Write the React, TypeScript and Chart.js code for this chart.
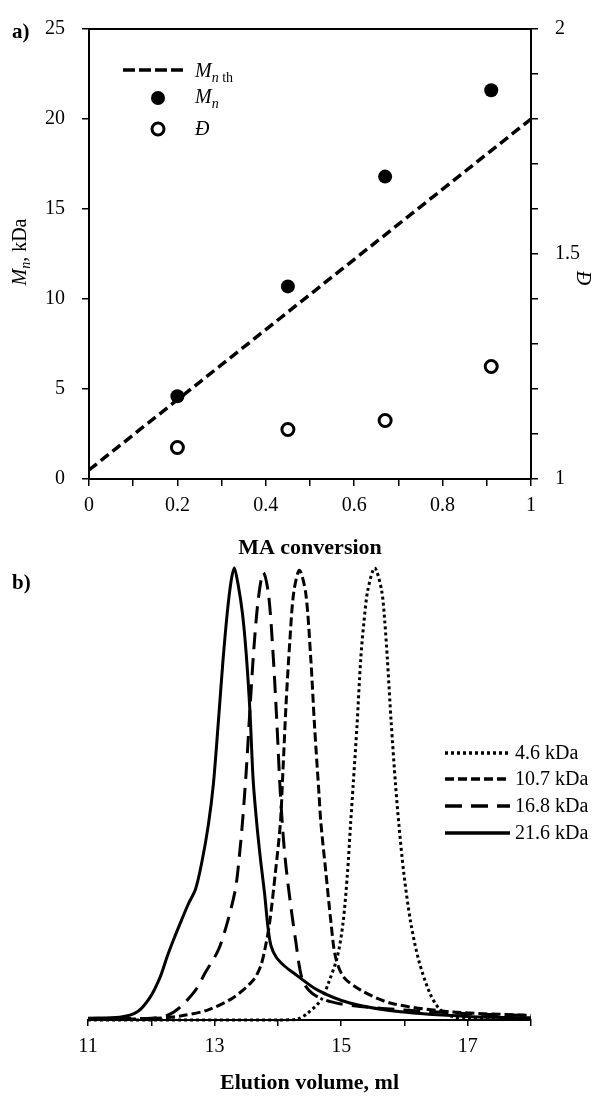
import React, { useEffect, useRef } from "react";
import { Chart, registerables } from "chart.js";

Chart.register(...registerables);

const SERIF = "'Liberation Serif', 'Times New Roman', serif";

// ---------- panel a data ----------
const conversion = [0.2, 0.45, 0.67, 0.91];
const mnValues = [4.6, 10.7, 16.8, 21.6];
const dispersityValues = [1.07, 1.11, 1.13, 1.25];
const mnThConversion = [0, 1];
const mnThValues = [0.5, 20];

// ---------- panel b data ----------
const vol46 = [11, 12, 13, 14, 14.31, 14.47, 14.68, 14.8, 14.94, 15.03, 15.1, 15.15, 15.19, 15.25, 15.31, 15.36, 15.42, 15.53, 15.64, 15.69, 15.73, 15.79, 15.86, 15.91, 15.99, 16.1, 16.23, 16.4, 16.55, 16.75, 17, 18];
const int46 = [0, 0, 0, 0, 0.002, 0.015, 0.044, 0.082, 0.14, 0.215, 0.325, 0.436, 0.52, 0.65, 0.8, 0.88, 0.95, 1.0, 0.95, 0.88, 0.8, 0.66, 0.52, 0.436, 0.325, 0.215, 0.13, 0.06, 0.025, 0.008, 0.003, 0.002];

const vol107 = [11, 12, 12.46, 12.89, 13.3, 13.61, 13.73, 13.8, 13.87, 13.96, 14.04, 14.08, 14.13, 14.19, 14.25, 14.34, 14.44, 14.52, 14.58, 14.65, 14.68, 14.76, 14.84, 14.91, 15.04, 15.31, 15.79, 16.74, 18];
const int107 = [0.002, 0.003, 0.009, 0.022, 0.05, 0.088, 0.12, 0.16, 0.215, 0.325, 0.436, 0.55, 0.7, 0.84, 0.945, 0.995, 0.945, 0.8, 0.65, 0.5, 0.436, 0.325, 0.215, 0.14, 0.095, 0.066, 0.037, 0.018, 0.01];

const vol168 = [11, 11.5, 12, 12.25, 12.46, 12.7, 12.85, 13.06, 13.2, 13.33, 13.39, 13.44, 13.5, 13.56, 13.62, 13.69, 13.77, 13.85, 13.92, 13.98, 14.04, 14.1, 14.17, 14.28, 14.39, 14.55, 14.85, 15.3, 16, 17, 18];
const int168 = [0.003, 0.004, 0.004, 0.01, 0.029, 0.066, 0.104, 0.155, 0.215, 0.29, 0.36, 0.436, 0.55, 0.69, 0.82, 0.93, 0.99, 0.945, 0.82, 0.67, 0.5, 0.38, 0.29, 0.177, 0.088, 0.058, 0.04, 0.03, 0.022, 0.014, 0.01];

const vol216 = [11, 11.5, 11.78, 11.98, 12.14, 12.25, 12.35, 12.46, 12.58, 12.7, 12.8, 12.9, 12.98, 13.06, 13.13, 13.2, 13.26, 13.31, 13.37, 13.44, 13.5, 13.56, 13.61, 13.67, 13.73, 13.79, 13.84, 13.89, 13.97, 14.1, 14.25, 14.63, 15.15, 15.94, 17, 18];
const int216 = [0.004, 0.006, 0.018, 0.05, 0.095, 0.14, 0.177, 0.215, 0.255, 0.29, 0.35, 0.43, 0.52, 0.66, 0.79, 0.9, 0.97, 1.0, 0.965, 0.9, 0.81, 0.68, 0.53, 0.43, 0.35, 0.28, 0.21, 0.165, 0.14, 0.12, 0.104, 0.066, 0.037, 0.018, 0.008, 0.005];

const traceLabels = ["4.6 kDa", "10.7 kDa", "16.8 kDa", "21.6 kDa"];
const traceDashes = [[3, 3], [9, 4], [17, 9], []];

const zip = (xs: number[], ys: number[]) => xs.map((x, i) => ({ x, y: ys[i] }));

type Part = { t: string; font: string; dy?: number };
function drawParts(ctx: CanvasRenderingContext2D, parts: Part[], x: number, y: number, center = false) {
  let w = 0;
  for (const p of parts) { ctx.font = p.font; w += ctx.measureText(p.t).width; }
  let cx = center ? x - w / 2 : x;
  ctx.textAlign = "left";
  ctx.textBaseline = "alphabetic";
  for (const p of parts) {
    ctx.font = p.font;
    ctx.fillText(p.t, cx, y + (p.dy || 0));
    cx += ctx.measureText(p.t).width;
  }
}

const decorA = {
  id: "decorA",
  afterDraw(chart: any) {
    const ctx: CanvasRenderingContext2D = chart.ctx;
    const a = chart.chartArea;
    ctx.save();
    ctx.fillStyle = "#000";
    ctx.strokeStyle = "#000";
    // top border
    ctx.lineWidth = 2;
    ctx.beginPath();
    ctx.moveTo(a.left, a.top);
    ctx.lineTo(a.right, a.top);
    ctx.stroke();
    // legend
    ctx.lineWidth = 3.5;
    ctx.setLineDash([12, 4]);
    ctx.beginPath();
    ctx.moveTo(123, 70);
    ctx.lineTo(183, 70);
    ctx.stroke();
    ctx.setLineDash([]);
    ctx.beginPath();
    ctx.arc(158, 98, 7, 0, Math.PI * 2);
    ctx.fill();
    ctx.lineWidth = 3;
    ctx.beginPath();
    ctx.arc(158, 129, 6, 0, Math.PI * 2);
    ctx.stroke();
    drawParts(ctx, [
      { t: "M", font: `italic 20px ${SERIF}` },
      { t: "n", font: `italic 14px ${SERIF}`, dy: 5 },
      { t: " th", font: `14px ${SERIF}`, dy: 5 },
    ], 195, 77);
    drawParts(ctx, [
      { t: "M", font: `italic 20px ${SERIF}` },
      { t: "n", font: `italic 14px ${SERIF}`, dy: 5 },
    ], 195, 103);
    drawParts(ctx, [{ t: "Đ", font: `italic 20px ${SERIF}` }], 195, 135);
    // left axis title
    ctx.save();
    ctx.translate(26, 252);
    ctx.rotate(-Math.PI / 2);
    drawParts(ctx, [
      { t: "M", font: `italic 20px ${SERIF}` },
      { t: "n", font: `italic 14px ${SERIF}`, dy: 4 },
      { t: ", kDa", font: `20px ${SERIF}` },
    ], 0, 0, true);
    ctx.restore();
    // right axis title
    ctx.save();
    ctx.translate(577, 278);
    ctx.rotate(Math.PI / 2);
    drawParts(ctx, [{ t: "Đ", font: `italic 20px ${SERIF}` }], 0, 0, true);
    ctx.restore();
    // panel label
    drawParts(ctx, [{ t: "a)", font: `bold 21px ${SERIF}` }], 12, 38);
    ctx.restore();
  },
};

const decorB = {
  id: "decorB",
  afterDraw(chart: any) {
    const ctx: CanvasRenderingContext2D = chart.ctx;
    ctx.save();
    ctx.fillStyle = "#000";
    ctx.strokeStyle = "#000";
    const rows = [193, 219, 246, 273];
    traceLabels.forEach((lab, i) => {
      ctx.lineWidth = 3.5;
      ctx.setLineDash(traceDashes[i]);
      ctx.beginPath();
      ctx.moveTo(445, rows[i]);
      ctx.lineTo(510, rows[i]);
      ctx.stroke();
      ctx.setLineDash([]);
      ctx.font = `20px ${SERIF}`;
      ctx.textAlign = "left";
      ctx.textBaseline = "middle";
      ctx.fillText(lab, 515, rows[i] + 1);
    });
    drawParts(ctx, [{ t: "b)", font: `bold 21px ${SERIF}` }], 12, 29);
    ctx.restore();
  },
};

const tickFont = { family: SERIF, size: 20 };

export default function App() {
  const refA = useRef<HTMLCanvasElement>(null);
  const refB = useRef<HTMLCanvasElement>(null);

  useEffect(() => {
    const chartA = new Chart(refA.current!, {
      type: "scatter",
      data: {
        datasets: [
          {
            label: "Mn th",
            data: zip(mnThConversion, mnThValues),
            showLine: true,
            borderColor: "#000",
            borderWidth: 3.5,
            borderDash: [10, 5],
            pointRadius: 0,
            yAxisID: "y",
            order: 3,
          },
          {
            label: "Mn",
            data: zip(conversion, mnValues),
            backgroundColor: "#000",
            borderColor: "#000",
            borderWidth: 0,
            pointRadius: 7,
            yAxisID: "y",
            order: 1,
          },
          {
            label: "Đ",
            data: zip(conversion, dispersityValues),
            backgroundColor: "#fff",
            borderColor: "#000",
            borderWidth: 3,
            pointRadius: 6,
            yAxisID: "y1",
            order: 2,
          },
        ] as any,
      },
      options: {
        animation: false,
        responsive: false,
        devicePixelRatio: 1,
        layout: { padding: { top: 25, left: 0, right: 0, bottom: 0 } },
        plugins: { legend: { display: false }, tooltip: { enabled: false } },
        scales: {
          x: {
            type: "linear",
            min: 0,
            max: 1,
            afterFit: (s: any) => { s.height = 83; },
            border: { display: true, color: "#000", width: 2 },
            grid: { display: true, drawOnChartArea: false, drawTicks: true, tickLength: 7, color: "#000", lineWidth: 1.5 },
            ticks: {
              stepSize: 0.1,
              autoSkip: false,
              maxRotation: 0,
              padding: 8,
              color: "#000",
              font: tickFont,
              callback: (v: any) => {
                const n = Math.round(Number(v) * 10);
                if (n % 2 !== 0) return "";
                if (n === 0) return "0";
                if (n === 10) return "1";
                return (n / 10).toFixed(1);
              },
            },
            title: { display: true, text: "MA conversion", color: "#000", font: { family: SERIF, size: 22, weight: "bold" }, padding: { top: 0, bottom: 0 } },
          },
          y: {
            type: "linear",
            position: "left",
            min: 0,
            max: 25,
            afterFit: (s: any) => { s.width = 89; },
            border: { display: true, color: "#000", width: 2 },
            grid: { display: true, drawOnChartArea: false, drawTicks: true, tickLength: 7, color: "#000", lineWidth: 1.5 },
            ticks: { stepSize: 5, padding: 17, color: "#000", font: tickFont },
          },
          y1: {
            type: "linear",
            position: "right",
            min: 1,
            max: 2,
            afterFit: (s: any) => { s.width = 80; },
            border: { display: true, color: "#000", width: 2 },
            grid: { display: true, drawOnChartArea: false, drawTicks: true, tickLength: 7, color: "#000", lineWidth: 1.5 },
            ticks: {
              stepSize: 0.1,
              autoSkip: false,
              padding: 17,
              color: "#000",
              font: tickFont,
              callback: (v: any) => {
                const n = Math.round(Number(v) * 10);
                if (n === 10) return "1";
                if (n === 15) return "1.5";
                if (n === 20) return "2";
                return "";
              },
            },
          },
        },
      } as any,
      plugins: [decorA],
    });

    const traces = [
      zip(vol46, int46),
      zip(vol107, int107),
      zip(vol168, int168),
      zip(vol216, int216),
    ];

    const chartB = new Chart(refB.current!, {
      type: "line",
      data: {
        datasets: traces.map((d, i) => ({
          label: traceLabels[i],
          data: d,
          borderColor: "#000",
          borderWidth: 3,
          borderDash: traceDashes[i],
          pointRadius: 0,
          fill: false,
          tension: 0.3,
          clip: false,
        })) as any,
      },
      options: {
        animation: false,
        responsive: false,
        devicePixelRatio: 1,
        layout: { padding: { top: 8, left: 88, right: 80, bottom: 0 } },
        plugins: { legend: { display: false }, tooltip: { enabled: false } },
        scales: {
          x: {
            type: "linear",
            min: 11,
            max: 18,
            afterFit: (s: any) => { s.height = 77; },
            border: { display: true, color: "#000", width: 2 },
            grid: { display: true, drawOnChartArea: false, drawTicks: true, tickLength: 6, color: "#000", lineWidth: 1.5 },
            ticks: {
              stepSize: 1,
              autoSkip: false,
              maxRotation: 0,
              padding: 9,
              color: "#000",
              font: tickFont,
              callback: (v: any) => {
                const n = Math.round(Number(v));
                return n % 2 === 1 ? String(n) : "";
              },
            },
            title: { display: true, text: "Elution volume, ml", color: "#000", font: { family: SERIF, size: 22, weight: "bold" }, padding: { top: 0, bottom: 0 } },
          },
          y: { type: "linear", display: false, min: 0, max: 1 },
        },
      } as any,
      plugins: [decorB],
    });

    return () => {
      chartA.destroy();
      chartB.destroy();
    };
  }, []);

  return (
    <div style={{ position: "absolute", left: 0, top: 0, width: 611, height: 1097, background: "#fff" }}>
      <canvas ref={refA} width={611} height={562} style={{ position: "absolute", left: 0, top: 0 }} />
      <canvas ref={refB} width={611} height={537} style={{ position: "absolute", left: 0, top: 560 }} />
    </div>
  );
}
